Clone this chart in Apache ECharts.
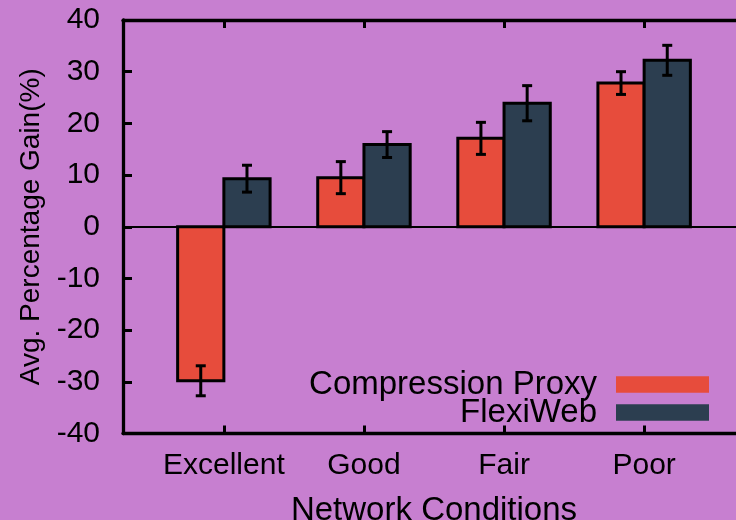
<!DOCTYPE html>
<html>
<head>
<meta charset="utf-8">
<script src="https://cdn.jsdelivr.net/npm/echarts@6/dist/echarts.min.js"></script>
<style>
  html, body { margin: 0; padding: 0; background: #c77fd0; }
  #chart { width: 736px; height: 520px; }
</style>
</head>
<body>
<div id="chart"></div>
<script>
// Network conditions on the x axis
const categories = ['Excellent', 'Good', 'Fair', 'Poor'];
const seriesNames = ['Compression Proxy', 'FlexiWeb'];

// Average percentage gain and its error (±) per condition
const proxyGain = [-29.8, 9.5, 17.1, 27.8];
const proxyErr  = [2.9, 3.1, 3.1, 2.2];
const flexiGain = [9.3, 15.9, 23.9, 32.2];
const flexiErr  = [2.6, 2.5, 3.4, 2.9];

// Axis ranges
const yMin = -40, yMax = 40, yStep = 10;
const xMin = -0.72, xMax = 3.72;
const tickPositions = categories.map((c, i) => i);

const FONT = '"Liberation Sans", Arial, Helvetica, sans-serif';
const BOX = 0.33;          // bar width in category units
const LINE = 3;            // outline / error bar stroke
const colors = ['#e74c3c', '#2c3e50'];

function barRenderer(offset) {
  return function (params, api) {
    const i = api.value(0), v = api.value(1), e = api.value(2);
    const x0 = i + offset, x1 = x0 + BOX;
    const base = api.coord([x0, 0]);
    const tip = api.coord([x1, v]);
    const cx = api.coord([x0 + BOX / 2, v])[0];
    const yHi = api.coord([x0, v + e])[1];
    const yLo = api.coord([x0, v - e])[1];
    const cap = 5;
    const stroke = { stroke: '#000', lineWidth: LINE };
    return {
      type: 'group',
      children: [
        {
          type: 'rect',
          shape: {
            x: base[0], y: Math.min(base[1], tip[1]),
            width: tip[0] - base[0], height: Math.abs(tip[1] - base[1])
          },
          style: { fill: api.visual('color'), stroke: '#000', lineWidth: LINE }
        },
        { type: 'line', shape: { x1: cx, y1: yHi, x2: cx, y2: yLo }, style: stroke },
        { type: 'line', shape: { x1: cx - cap, y1: yHi, x2: cx + cap, y2: yHi }, style: stroke },
        { type: 'line', shape: { x1: cx - cap, y1: yLo, x2: cx + cap, y2: yLo }, style: stroke }
      ]
    };
  };
}

function legendFor(name, top) {
  return {
    data: [name],
    orient: 'vertical',
    align: 'right',
    right: 27,
    top: top,
    padding: 0,
    icon: 'rect',
    itemWidth: 93,
    itemHeight: 16.5,
    selectedMode: false,
    itemStyle: { borderWidth: 0 },
    textStyle: {
      fontFamily: FONT, fontSize: 33, color: '#000',
      lineHeight: 20, padding: [0, 14, 0, 0]
    }
  };
}

const axisLineStyle = { color: '#000', width: 3.3 };
const tickStyle = { color: '#000', width: 3 };

const chart = echarts.init(document.getElementById('chart'));
chart.setOption({
  backgroundColor: '#c77fd0',
  animation: false,
  grid: {
    left: 123, top: 20, right: -9, bottom: 86.5,
    containLabel: false, outerBoundsMode: 'none'
  },
  legend: [legendFor(seriesNames[0], 368), legendFor(seriesNames[1], 396)],
  xAxis: [
    {
      type: 'value', position: 'bottom', min: xMin, max: xMax,
      axisLine: { show: true, onZero: false, lineStyle: axisLineStyle },
      axisTick: { show: true, inside: true, length: 8, customValues: tickPositions, lineStyle: tickStyle },
      axisLabel: {
        customValues: tickPositions, formatter: v => categories[v],
        fontFamily: FONT, fontSize: 30, color: '#000', margin: 17
      },
      splitLine: { show: false },
      name: 'Network Conditions', nameLocation: 'middle', nameGap: 61,
      nameTextStyle: { fontFamily: FONT, fontSize: 33, color: '#000' }
    },
    {
      type: 'value', position: 'top', min: xMin, max: xMax,
      axisLine: { show: true, onZero: false, lineStyle: axisLineStyle },
      axisTick: { show: true, inside: true, length: 8, customValues: tickPositions, lineStyle: tickStyle },
      axisLabel: { show: false },
      splitLine: { show: false }
    }
  ],
  yAxis: {
    type: 'value', min: yMin, max: yMax, interval: yStep,
    axisLine: { show: true, onZero: false, lineStyle: axisLineStyle },
    axisTick: { show: true, inside: true, length: 9, lineStyle: tickStyle },
    axisLabel: { fontFamily: FONT, fontSize: 30, color: '#000', margin: 23 },
    splitLine: { show: false },
    name: 'Avg. Percentage Gain(%)', nameLocation: 'middle', nameGap: 78,
    nameTextStyle: { fontFamily: FONT, fontSize: 28, color: '#000' }
  },
  series: [
    {
      name: seriesNames[0], type: 'custom', xAxisIndex: 0,
      itemStyle: { color: colors[0] },
      renderItem: barRenderer(-BOX),
      data: categories.map((c, i) => [i, proxyGain[i], proxyErr[i]]),
      markLine: {
        silent: true, symbol: 'none', label: { show: false },
        lineStyle: { color: '#000', width: 2.2, type: 'solid' },
        data: [{ yAxis: 0 }]
      },
      z: 3
    },
    {
      name: seriesNames[1], type: 'custom', xAxisIndex: 0,
      itemStyle: { color: colors[1] },
      renderItem: barRenderer(0),
      data: categories.map((c, i) => [i, flexiGain[i], flexiErr[i]]),
      z: 3
    }
  ]
});
</script>
</body>
</html>
